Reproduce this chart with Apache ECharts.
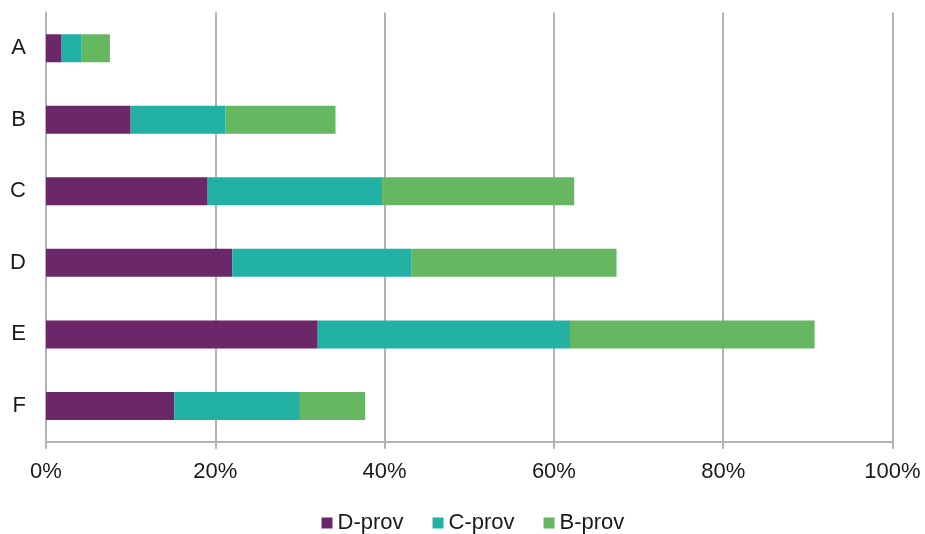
<!DOCTYPE html>
<html>
<head>
<meta charset="utf-8">
<script src="https://cdn.jsdelivr.net/npm/echarts@6/dist/echarts.min.js"></script>
<style>html,body{margin:0;padding:0;background:#fff}#c{width:925px;height:534px}</style>
</head>
<body>
<div id="c"></div>
<script>
const categories = ['A', 'B', 'C', 'D', 'E', 'F'];
const dProv = [1.85, 10.0, 19.1, 22.0, 32.1, 15.15];
const cProv = [2.3, 11.2, 20.6, 21.2, 29.8, 14.85];
const bProv = [3.4, 13.0, 22.7, 24.2, 28.9, 7.7];
const seriesNames = ['D-prov', 'C-prov', 'B-prov'];
const colors = ['#6b2769', '#23b0a5', '#66b762'];
const xTicks = [0, 20, 40, 60, 80, 100];

const chart = echarts.init(document.getElementById('c'));
const font = 'Liberation Sans, Arial, sans-serif';
const mk = (name, data, i) => ({
  name, type: 'bar', stack: 'total', data,
  barWidth: 28,
  itemStyle: { color: colors[i] },
  emphasis: { disabled: true }
});
chart.setOption({
  animation: false,
  color: colors,
  grid: { left: 46, right: 32.5, top: 12.5, bottom: 92.3, containLabel: false },
  legend: {
    data: seriesNames,
    top: 512,
    left: 321.5,
    padding: 0,
    itemWidth: 11, itemHeight: 11, itemGap: 29,
    icon: 'rect',
    textStyle: { fontFamily: font, fontSize: 22, color: '#1a1a1a' }
  },
  xAxis: {
    type: 'value', min: xTicks[0], max: xTicks[xTicks.length - 1], interval: 20,
    axisLine: { show: true, lineStyle: { color: '#b3b3b3', width: 2 } },
    axisTick: { show: true, length: 7, lineStyle: { color: '#b3b3b3', width: 2 } },
    splitLine: { show: true, lineStyle: { color: '#b3b3b3', width: 2 } },
    axisLabel: { formatter: v => v + '%', fontFamily: font, fontSize: 22, color: '#1a1a1a', margin: 19 }
  },
  yAxis: {
    type: 'category', data: categories, inverse: true,
    axisLine: { show: true, lineStyle: { color: '#b3b3b3', width: 2 } },
    axisTick: { show: false },
    axisLabel: { fontFamily: font, fontSize: 22, color: '#1a1a1a', margin: 20 }
  },
  series: [mk(seriesNames[0], dProv, 0), mk(seriesNames[1], cProv, 1), mk(seriesNames[2], bProv, 2)]
});
</script>
</body>
</html>
